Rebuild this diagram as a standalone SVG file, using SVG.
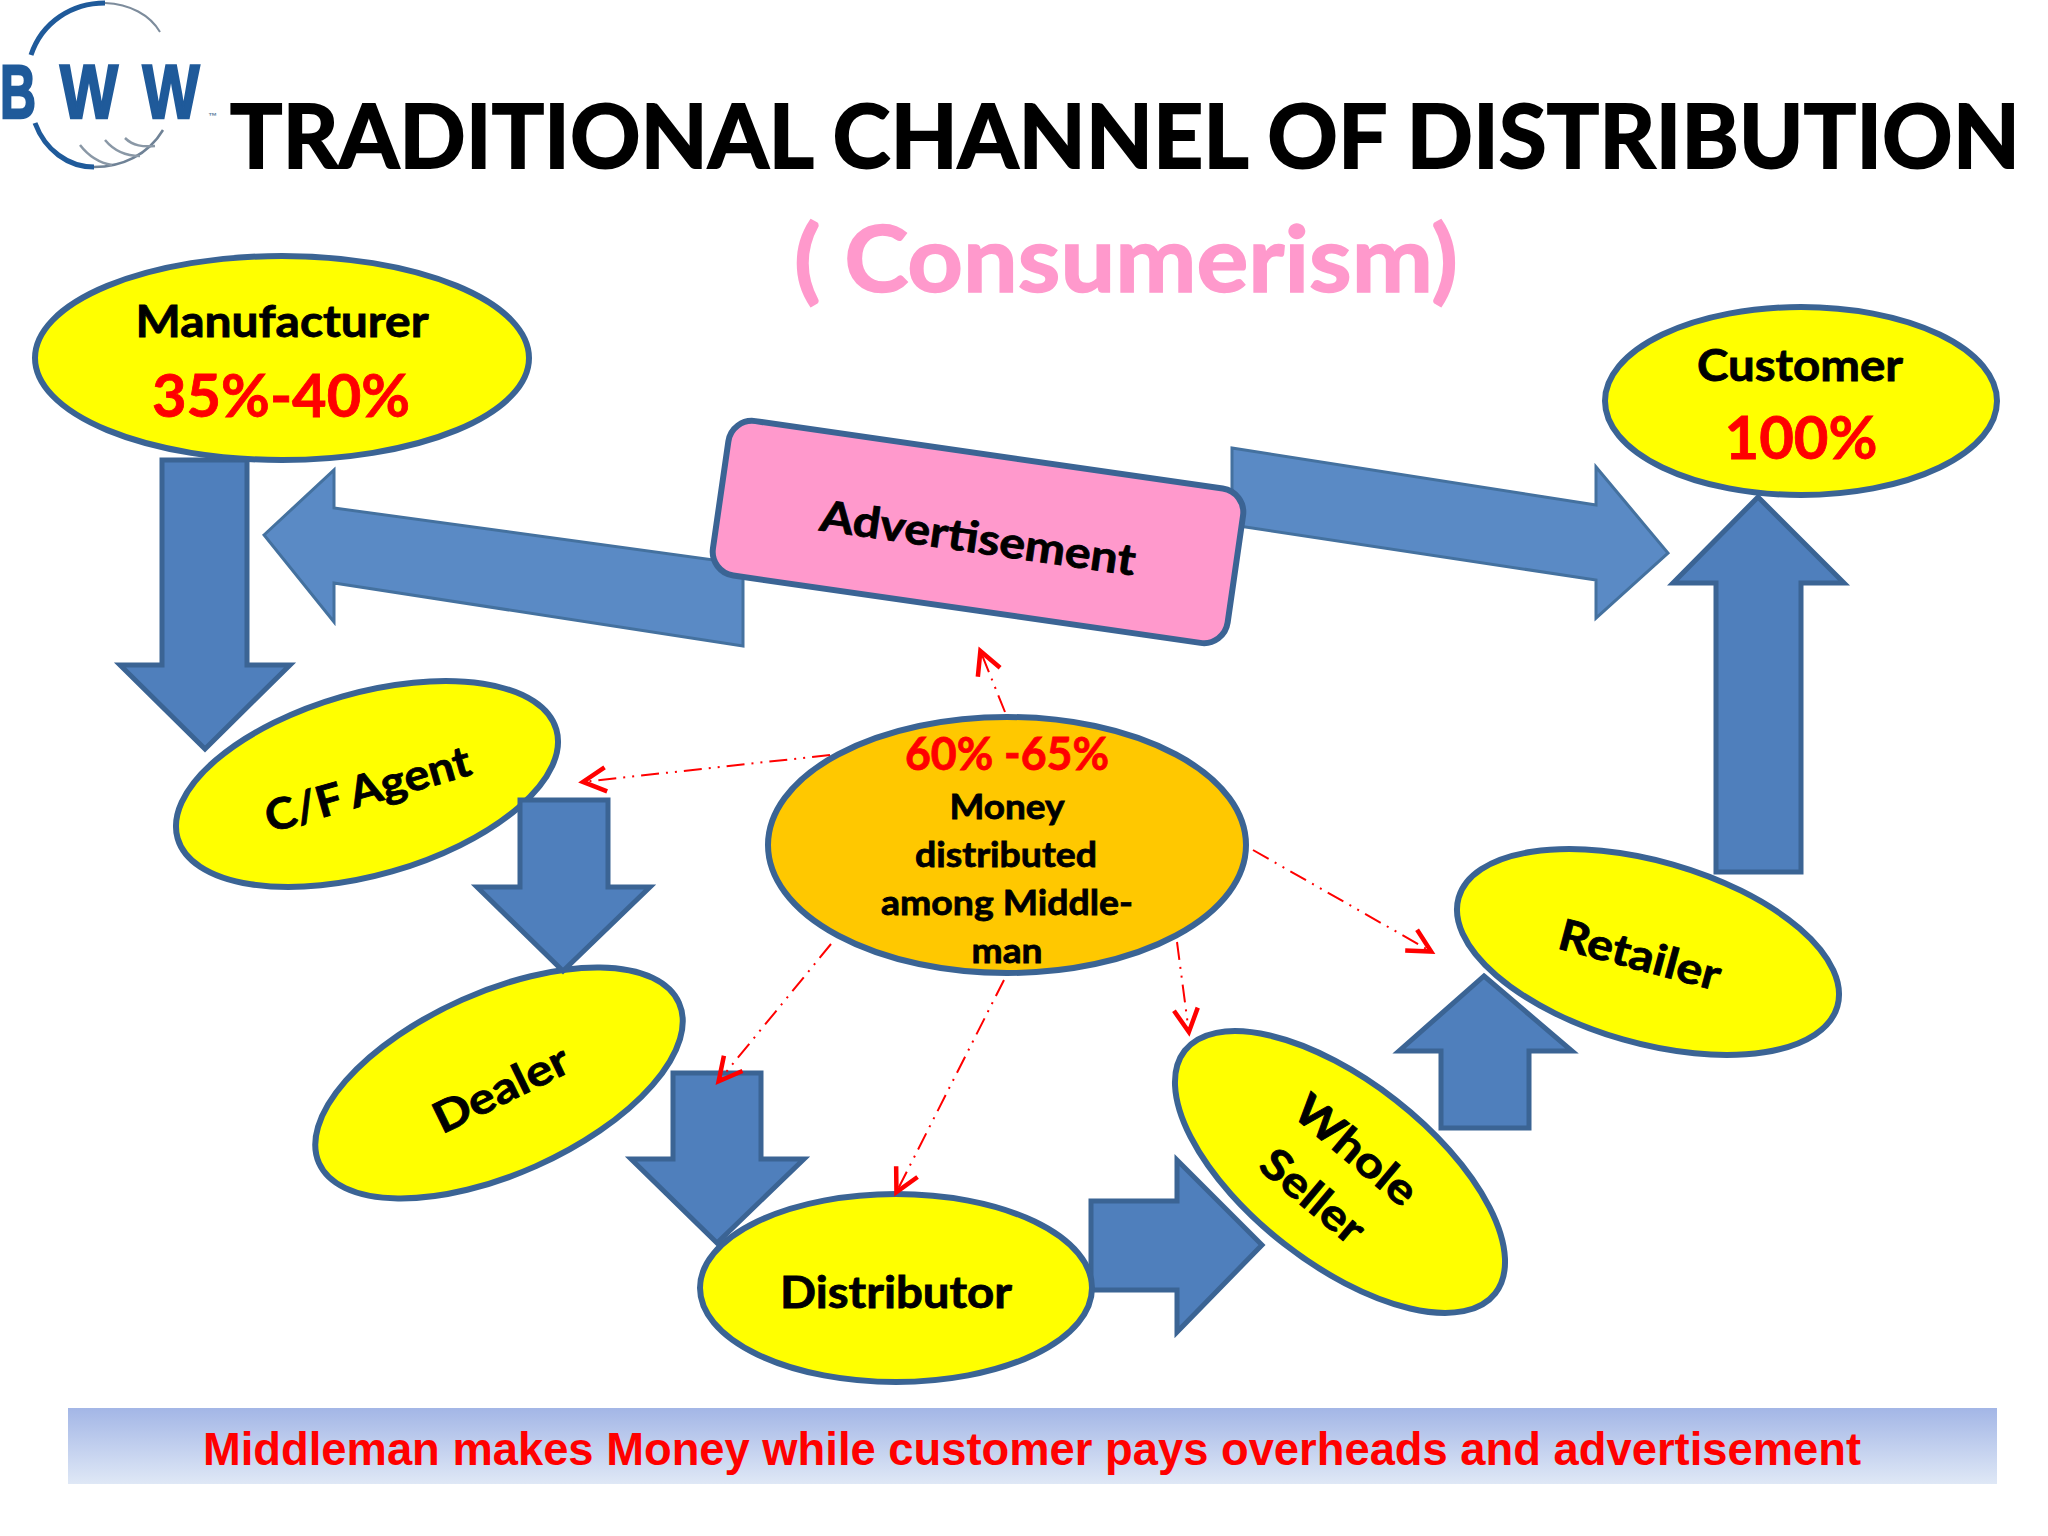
<svg xmlns="http://www.w3.org/2000/svg" width="2048" height="1536" viewBox="0 0 2048 1536">
<style>
.t{font-family:"Lato","Carlito","Liberation Sans",sans-serif;font-weight:700;text-anchor:middle;fill:#000;stroke:#000;stroke-width:.8}
.r{fill:#f00;stroke:#f00}
.e{fill:#ff0;stroke:#3b6494;stroke-width:6}
.a{fill:#4f7fbc;stroke:#3b6494;stroke-width:5;stroke-linejoin:miter}
.b{fill:#5a8ac5;stroke:#44719f;stroke-width:3}
.d{fill:none;stroke:#f00;stroke-width:2;stroke-dasharray:18 7 2 7 2 7;marker-end:url(#v)}
.l{font-family:"Liberation Sans",sans-serif;font-weight:700;font-size:76px;text-anchor:middle;fill:#1f5a9a;stroke:#1f5a9a;stroke-width:2.5}
</style>
<defs>
<marker id="v" markerUnits="userSpaceOnUse" viewBox="-30 -16 36 32" refX="0" refY="0" markerWidth="36" markerHeight="32" orient="auto"><path d="M-24,-12 L-1,0 L-24,12" fill="none" stroke="#f00" stroke-width="4.5"/></marker>
<linearGradient id="bar" x1="0" y1="0" x2="0" y2="1"><stop offset="0" stop-color="#a3b6e6"/><stop offset="1" stop-color="#dfe8f6"/></linearGradient>
</defs>
<rect width="2048" height="1536" fill="#fff"/>
<g id="logo">
<path d="M31,55 C42,22 72,3 105,3" fill="none" stroke="#1f5a9a" stroke-width="5"/>
<path d="M105,3 C130,4 150,15 160,32" fill="none" stroke="#7d8c9c" stroke-width="2"/>
<path d="M35,123 C45,150 68,167 94,167" fill="none" stroke="#1f5a9a" stroke-width="5"/>
<path d="M94,167 C122,167 148,155 163,130" fill="none" stroke="#6f8296" stroke-width="2.5"/>
<path d="M80,145 C90,158 100,163 112,165 M105,140 C115,152 128,156 140,156 M125,138 C133,146 143,147 155,146" fill="none" stroke="#8a98a6" stroke-width="2.5"/>
<text class="l" x="18" y="118" textLength="36" lengthAdjust="spacingAndGlyphs">B</text>
<text class="l" x="89" y="118" textLength="58" lengthAdjust="spacingAndGlyphs">W</text>
<text class="l" x="171" y="118" textLength="57" lengthAdjust="spacingAndGlyphs">W</text>
<text x="208" y="119" style="font:700 9px 'Liberation Sans',sans-serif;text-anchor:start;fill:#5f7f9f">™</text>
</g>
<g id="title">
<text class="t" x="230" y="168" font-size="88" textLength="1790" lengthAdjust="spacingAndGlyphs" style="text-anchor:start;stroke-width:1.8">TRADITIONAL CHANNEL OF DISTRIBUTION</text>
<text class="t" x="1126" y="292" font-size="92" textLength="664" lengthAdjust="spacingAndGlyphs" style="fill:#ff99cc;stroke:#ff99cc;stroke-width:1.5">( Consumerism)</text>
</g>
<g id="connectors-back">
<polygon class="a" points="162,460 247,460 247,665 290,665 205,749 120,665 162,665"/>
<polygon class="b" points="264,535 334,470 334,508 743,564 743,646 334,583 334,622"/>
<polygon class="b" points="1232,448 1596,505 1596,467 1668,553 1596,618 1596,580 1232,525"/>
<polygon class="a" points="1758,497 1844,583 1801,583 1801,872 1716,872 1716,583 1673,583"/>
<polygon class="a" points="1091,1201 1177,1201 1177,1160 1262,1245 1177,1332 1177,1290 1091,1290"/>
<polygon class="a" points="1484,976 1572,1051 1529,1051 1529,1128 1441,1128 1441,1051 1399,1051"/>
</g>
<g id="node-manufacturer">
<ellipse class="e" cx="282" cy="358" rx="247" ry="102"/>
<text class="t" x="282" y="337" font-size="43" textLength="293" lengthAdjust="spacingAndGlyphs">Manufacturer</text>
<text class="t r" x="281" y="417" font-size="60" textLength="258" lengthAdjust="spacingAndGlyphs">35%-40%</text>
</g>
<g id="node-customer">
<ellipse class="e" cx="1801" cy="401" rx="196" ry="94"/>
<text class="t" x="1800" y="381" font-size="43" textLength="206" lengthAdjust="spacingAndGlyphs">Customer</text>
<text class="t r" x="1801" y="459" font-size="60" textLength="153" lengthAdjust="spacingAndGlyphs">100%</text>
</g>
<g id="node-advertisement">
<rect x="718" y="454" width="520" height="156" rx="24" transform="rotate(8.2 978 532)" fill="#ff99cc" stroke="#3b6494" stroke-width="6"/>
<text class="t" transform="translate(978 538) rotate(8.2)" y="15" font-size="43" textLength="318" lengthAdjust="spacingAndGlyphs">Advertisement</text>
</g>
<g id="node-cf-agent">
<ellipse class="e" cx="367" cy="784" rx="197" ry="91" transform="rotate(-16 367 784)"/>
<text class="t" transform="translate(368 790) rotate(-16)" y="14" font-size="43" textLength="212" lengthAdjust="spacingAndGlyphs">C/F Agent</text>
</g>
<g id="node-dealer">
<ellipse class="e" cx="499" cy="1083" rx="197" ry="91" transform="rotate(-24 499 1083)"/>
<text class="t" transform="translate(501 1089) rotate(-26)" y="15" font-size="43" textLength="146" lengthAdjust="spacingAndGlyphs">Dealer</text>
</g>
<g id="node-distributor">
<ellipse class="e" cx="896" cy="1288" rx="196" ry="94"/>
<text class="t" x="896" y="1308" font-size="43" textLength="232" lengthAdjust="spacingAndGlyphs">Distributor</text>
</g>
<g id="node-whole-seller">
<ellipse class="e" cx="1340" cy="1172" rx="197" ry="91" transform="rotate(38 1340 1172)"/>
<text class="t" transform="translate(1356 1150) rotate(40)" y="15" font-size="43" textLength="146" lengthAdjust="spacingAndGlyphs">Whole</text>
<text class="t" transform="translate(1313 1196) rotate(40)" y="15" font-size="43" textLength="122" lengthAdjust="spacingAndGlyphs">Seller</text>
</g>
<g id="node-retailer">
<ellipse class="e" cx="1648" cy="952" rx="197" ry="91" transform="rotate(16 1648 952)"/>
<text class="t" transform="translate(1640 955) rotate(15)" y="15" font-size="43" textLength="166" lengthAdjust="spacingAndGlyphs">Retailer</text>
</g>
<g id="node-middleman">
<ellipse class="e" cx="1007" cy="845" rx="239" ry="128" style="fill:#ffc800"/>
<text class="t r" x="1007" y="770" font-size="45" textLength="204" lengthAdjust="spacingAndGlyphs">60% -65%</text>
<text class="t" x="1007" y="819" font-size="35" textLength="115" lengthAdjust="spacingAndGlyphs">Money</text>
<text class="t" x="1006" y="867" font-size="35" textLength="182" lengthAdjust="spacingAndGlyphs">distributed</text>
<text class="t" x="1007" y="915" font-size="35" textLength="252" lengthAdjust="spacingAndGlyphs">among Middle-</text>
<text class="t" x="1007" y="963" font-size="35" textLength="71" lengthAdjust="spacingAndGlyphs">man</text>
</g>
<g id="connectors-front">
<polygon class="a" points="520,800 608,800 608,887 650,887 563,971 477,887 520,887"/>
<polygon class="a" points="673,1073 761,1073 761,1159 804,1159 717,1243 631,1159 673,1159"/>
<path class="d" d="M1005,712 L980,650"/>
<path class="d" d="M830,755 L582,782"/>
<path class="d" d="M1253,850 L1432,952"/>
<path class="d" d="M831,944 L718,1082"/>
<path class="d" d="M1004,980 L896,1193"/>
<path class="d" d="M1177,942 L1189,1033"/>
</g>
<g id="banner">
<rect x="68" y="1408" width="1929" height="76" fill="url(#bar)"/>
<text x="1032" y="1465" textLength="1658" lengthAdjust="spacingAndGlyphs" style="font:700 46px 'Liberation Sans',sans-serif;text-anchor:middle;fill:#f00">Middleman makes Money while customer pays overheads and advertisement</text>
</g>
</svg>
